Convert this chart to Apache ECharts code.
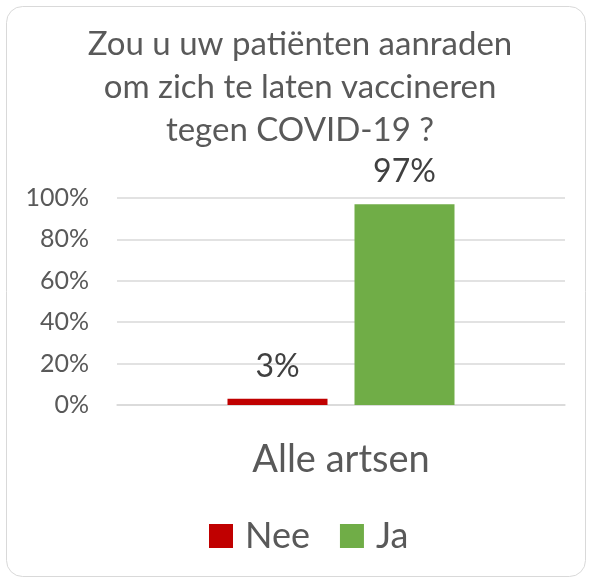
<!DOCTYPE html>
<html>
<head>
<meta charset="utf-8">
<script src="https://cdn.jsdelivr.net/npm/echarts@6/dist/echarts.min.js"></script>
<style>
  html, body { margin: 0; padding: 0; background: #fff; }
  #chart { width: 589px; height: 581px; }
</style>
</head>
<body>
<div id="chart"></div>
<script>
// vraag aan artsen: advies vaccinatie
const categories = ['Alle artsen'];
const seriesNames = ['Nee', 'Ja'];
const neeValues = [3];
const jaValues = [97];
const yTicks = [0, 20, 40, 60, 80, 100];

const font = 'Lato';
const grey = '#595959';

const chart = echarts.init(document.getElementById('chart'));

const option = {
    backgroundColor: '#fff',
    animation: false,
    graphic: [{
        type: 'rect',
        shape: { x: 6.5, y: 6.5, width: 579, height: 570, r: 16 },
        style: { fill: 'none', stroke: '#D9D9D9', lineWidth: 1 },
        z: -1
    }],
    title: {
        text: 'Zou u uw patiënten aanraden\nom zich te laten vaccineren\ntegen COVID-19 ?',
        left: 300,
        top: 23,
        padding: 0,
        textAlign: 'center',
        textStyle: {
            fontFamily: font,
            fontWeight: 'normal',
            fontSize: 33,
            lineHeight: 43,
            color: grey
        }
    },
    legend: {
        data: seriesNames,
        left: 209,
        top: 516,
        padding: 0,
        itemWidth: 24,
        itemHeight: 24,
        itemGap: 30,
        icon: 'rect',
        textStyle: {
            fontFamily: font,
            fontSize: 36,
            lineHeight: 40,
            color: grey,
            padding: [0, 0, 0, 7]
        }
    },
    grid: { left: 117, right: 24, top: 198, bottom: 176 },
    xAxis: {
        type: 'category',
        data: categories,
        axisLine: { lineStyle: { color: '#D9D9D9', width: 1.5 } },
        axisTick: { show: false },
        axisLabel: {
            fontFamily: font,
            fontSize: 38,
            lineHeight: 46,
            color: grey,
            margin: 32
        }
    },
    yAxis: {
        type: 'value',
        min: yTicks[0],
        max: yTicks[yTicks.length - 1],
        interval: 20,
        axisLine: { show: false },
        axisTick: { show: false },
        splitLine: { lineStyle: { color: '#D9D9D9', width: 1.5 } },
        axisLabel: {
            formatter: '{value}%',
            fontFamily: font,
            fontSize: 25,
            color: grey,
            margin: 28
        }
    },
    series: [
        {
            name: seriesNames[0],
            type: 'bar',
            data: neeValues,
            barWidth: 100,
            barGap: '27%',
            itemStyle: { color: '#C00000' },
            label: {
                show: true,
                position: 'top',
                distance: 14,
                formatter: '{c}%',
                fontFamily: font,
                fontSize: 32,
                lineHeight: 37,
                color: '#404040'
            }
        },
        {
            name: seriesNames[1],
            type: 'bar',
            data: jaValues,
            barWidth: 100,
            barGap: '27%',
            itemStyle: { color: '#70AD47' },
            label: {
                show: true,
                position: 'top',
                distance: 14,
                formatter: '{c}%',
                fontFamily: font,
                fontSize: 32,
                lineHeight: 37,
                color: '#404040'
            }
        }
    ]
};

chart.setOption(option);
</script>
</body>
</html>
